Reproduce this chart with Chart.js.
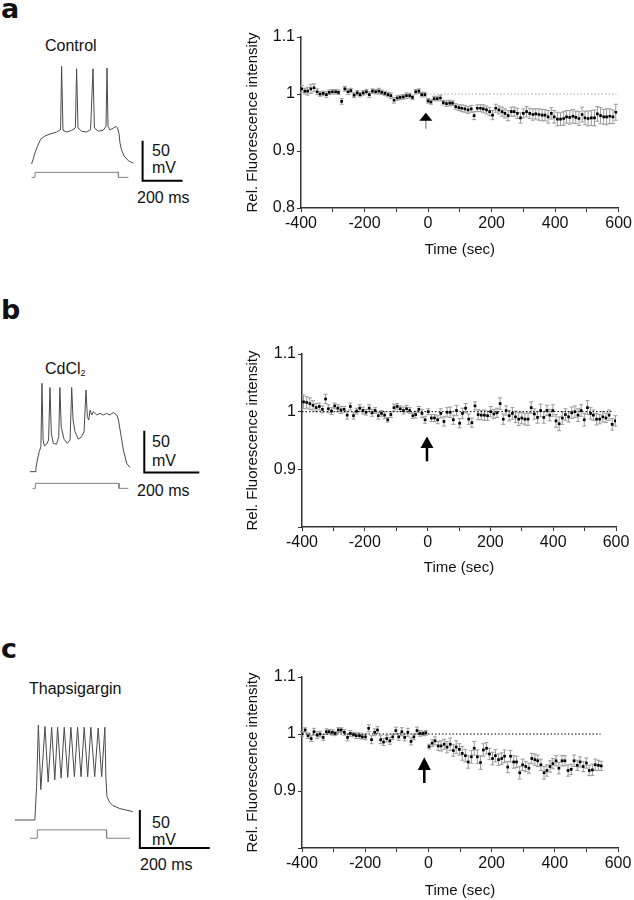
<!DOCTYPE html>
<html>
<head>
<meta charset="utf-8">
<script src="https://cdn.jsdelivr.net/npm/chart.js@4"></script>
<style>
  body { margin: 0; background: #fff; width: 634px; height: 900px; position: relative; overflow: hidden;
         font-family: "Liberation Sans", Arial, sans-serif; color: #111; }
  canvas { position: absolute; }
  .lbl { position: absolute; font-size: 16px; line-height: 16px; white-space: nowrap; }
  .tag { position: absolute; font-family: "DejaVu Sans", sans-serif; font-weight: bold; font-size: 27px; line-height: 27px; }
  sub { font-size: 9px; vertical-align: -2px; }
</style>
</head>
<body>
<div class="tag" style="left:1px;top:-5px">a</div>
<div class="tag" style="left:1px;top:296px">b</div>
<div class="tag" style="left:1px;top:635px">c</div>

<div class="lbl" style="left:45px;top:38px">Control</div>
<div class="lbl" style="left:152px;top:143px">50</div>
<div class="lbl" style="left:152px;top:160px">mV</div>
<div class="lbl" style="left:137px;top:190px">200 ms</div>

<div class="lbl" style="left:45px;top:361px">CdCl<sub>2</sub></div>
<div class="lbl" style="left:152px;top:434px">50</div>
<div class="lbl" style="left:152px;top:453px">mV</div>
<div class="lbl" style="left:137px;top:483px">200 ms</div>

<div class="lbl" style="left:29px;top:681px">Thapsigargin</div>
<div class="lbl" style="left:152px;top:815px">50</div>
<div class="lbl" style="left:152px;top:832px">mV</div>
<div class="lbl" style="left:140px;top:857px">200 ms</div>

<canvas id="trA" width="180" height="160" style="left:20px;top:50px"></canvas>
<canvas id="trB" width="200" height="160" style="left:20px;top:350px"></canvas>
<canvas id="trC" width="220" height="170" style="left:10px;top:700px"></canvas>
<canvas id="flA" width="394" height="240" style="left:240px;top:20px"></canvas>
<canvas id="flB" width="394" height="260" style="left:240px;top:320px"></canvas>
<canvas id="flC" width="394" height="260" style="left:240px;top:640px"></canvas>

<script>
// ---- voltage traces (ms, mV) ----
const traceA_ms = [58,67,75,87,103,125,150,183,203,208,215,233,258,277,283,290,308,333,353,365,372,392,417,430,435,440,450,467,480,488,495,500,508,520,542,567];
const traceA_mV = [-70,-63,-56,-48,-39,-35,-32.5,-30,-27,52,-28,-30,-28,-25,49,-25,-29,-30,-27,49,-25,-29,-27.5,-23,50,-23,-27.5,-25,-23,-25,-32,-44,-52.5,-60,-66,-69];
const stimA_ms = [58,75,75,492,492,542];
const stimA_mV = [-86.7,-86.7,-80.4,-80.4,-86.7,-86.7];
const barA_ms = [613,613,813];
const barA_mV = [-41,-91,-91];

const traceB_ms = [36,56,58,63,70,76,80,84,88.5,97,104,109,114,121,133,141,145,150,160,172,182,188,193,200,212,224,233,240,245,250,255,261,267,279,291,303,315,327,339,352,358,366,376,388,400];
const traceB_mV = [-70,-70,-66,-56,-46,-40,36,-32,-39,-37,-32,31,-24,-36,-37,-28,31,-16,-31,-36,-32,31,-8,-22,-31,-28,-22,28,-4,-8,4,-2,2,-2,0,-2,0,-2,1,-2,-8,-24,-44,-60,-65];
const stimB_ms = [46,56,56,360,360,394];
const stimB_mV = [-90,-90,-84,-84,-90,-90];
const barB_ms = [452,452,652];
const barB_mV = [-21,-71,-71];

const traceC_ms = [14,71,76,81,88,100,109,119,128,136,146,155,165,174,184,193,203,212,222,231,242,252,262,271,274,277,285,294,314,351];
const traceC_mV = [-70,-70,-26,55,-30,53,-20,52,-17,52,-15,52,-14,52,-13,52,-13,52,-13,52,-13,51,-13,52,-14,-39,-47,-51,-55,-59];
const stimC_ms = [57,78,78,276,276,343];
const stimC_mV = [-94,-94,-83,-83,-94,-94];
const barC_ms = [371,371,571];
const barC_mV = [-57,-107,-107];

// ---- relative fluorescence (time in sec) ----
const timeA = [-398,-388,-379,-369,-359,-349,-340,-330,-320,-311,
  -301,-291,-282,-272,-262,-252,-243,-233,-223,-214,
  -204,-194,-185,-175,-165,-155,-146,-136,-126,-117,
  -107,-97,-88,-78,-68,-58,-49,-39,-29,-20,
  -10,0,9,19,29,39,48,58,68,77,
  87,97,106,116,126,136,145,155,165,174,
  184,194,203,213,223,233,242,252,262,271,
  281,291,300,310,320,330,339,349,359,368,
  378,388,397,407,417,427,436,446,456,465,
  475,485,494,504,514,524,533,543,553,562,
  572,582,591];
const fluorA = [1.009,1.005,1.005,1.009,1.011,1.004,1.000,1.001,0.999,1.003,
  1.004,1.004,1.003,0.987,1.009,1.004,1.006,0.998,1.002,0.999,
  1.002,1.004,0.999,1.005,1.004,1.005,1.003,1.001,0.999,0.997,
  0.989,0.993,0.994,0.995,0.997,0.997,0.994,1.004,1.005,0.999,
  0.999,0.988,0.986,0.992,0.992,0.993,0.985,0.983,0.984,0.984,
  0.978,0.976,0.975,0.974,0.972,0.974,0.962,0.975,0.975,0.974,
  0.972,0.969,0.963,0.975,0.972,0.969,0.966,0.962,0.969,0.969,
  0.966,0.958,0.966,0.969,0.966,0.964,0.965,0.964,0.963,0.963,
  0.960,0.966,0.960,0.956,0.956,0.957,0.960,0.959,0.961,0.959,
  0.957,0.964,0.958,0.957,0.958,0.958,0.965,0.962,0.960,0.960,
  0.961,0.960,0.968];
const semA = [0.006,0.005,0.007,0.008,0.007,0.005,0.004,0.004,0.005,0.004,
  0.004,0.004,0.004,0.005,0.004,0.005,0.004,0.004,0.004,0.004,
  0.004,0.004,0.005,0.004,0.004,0.005,0.004,0.004,0.004,0.005,
  0.005,0.004,0.004,0.004,0.005,0.004,0.004,0.004,0.004,0.004,
  0.004,0.004,0.004,0.004,0.004,0.005,0.004,0.005,0.005,0.004,
  0.005,0.005,0.006,0.006,0.006,0.006,0.007,0.006,0.006,0.007,
  0.007,0.007,0.008,0.007,0.007,0.008,0.008,0.009,0.008,0.008,
  0.009,0.009,0.008,0.009,0.009,0.010,0.009,0.010,0.010,0.010,
  0.011,0.010,0.011,0.012,0.011,0.012,0.011,0.012,0.012,0.011,
  0.012,0.013,0.012,0.013,0.013,0.014,0.013,0.014,0.013,0.014,
  0.013,0.012,0.014];

const timeB = [-395,-385,-375,-365,-355,-345,-335,-325,-316,-306,
  -296,-286,-276,-266,-256,-246,-236,-226,-216,-206,
  -196,-186,-177,-167,-157,-147,-137,-127,-117,-107,
  -97,-87,-77,-67,-57,-47,-38,-28,-18,-8,
  2,12,22,32,42,52,62,72,82,92,
  102,111,121,131,141,151,161,171,181,191,
  201,211,221,231,241,250,260,270,280,290,
  300,310,320,330,340,350,360,370,380,389,
  399,409,419,429,439,449,459,469,479,489,
  499,509,519,528,538,548,558,568,578,588,
  598];
const fluorB = [1.017,1.016,1.014,1.011,1.007,1.009,1.004,1.022,1.005,1.001,
  1.010,1.006,1.003,1.004,0.994,1.009,0.993,1.001,1.006,1.002,
  0.999,1.006,0.998,1.002,0.993,0.997,0.994,0.986,0.995,1.007,
  1.009,1.005,1.002,1.005,1.002,0.993,0.995,1.004,0.997,0.986,
  1.000,0.989,0.989,0.986,0.997,0.983,0.999,0.999,0.986,1.002,
  0.980,0.997,1.006,0.987,0.981,1.010,0.995,0.994,0.994,0.993,
  1.000,0.996,0.998,1.014,0.987,1.002,0.993,0.997,0.991,0.987,
  0.989,0.987,0.987,1.007,0.996,0.990,1.002,0.990,1.002,0.994,
  1.002,0.984,0.979,0.989,0.995,0.991,0.998,1.000,0.994,1.002,
  0.986,1.007,0.997,0.994,0.987,0.987,0.991,0.989,0.994,0.978,
  0.984];
const semB = [0.012,0.010,0.010,0.008,0.007,0.006,0.006,0.008,0.007,0.006,
  0.005,0.006,0.006,0.005,0.007,0.006,0.006,0.005,0.006,0.006,
  0.005,0.006,0.006,0.005,0.006,0.005,0.006,0.004,0.005,0.006,
  0.005,0.005,0.006,0.006,0.005,0.005,0.006,0.005,0.007,0.006,
  0.005,0.006,0.006,0.007,0.008,0.008,0.008,0.009,0.008,0.009,
  0.008,0.009,0.008,0.009,0.008,0.007,0.009,0.008,0.009,0.008,
  0.009,0.008,0.008,0.010,0.009,0.008,0.009,0.010,0.010,0.011,
  0.010,0.010,0.011,0.010,0.009,0.010,0.011,0.010,0.009,0.010,
  0.010,0.011,0.012,0.011,0.010,0.009,0.010,0.010,0.011,0.010,
  0.011,0.012,0.010,0.009,0.010,0.008,0.009,0.008,0.009,0.010,
  0.009];

const timeC = [-400,-390,-381,-371,-362,-352,-343,-333,-323,-314,
  -304,-295,-285,-276,-266,-256,-247,-237,-228,-218,
  -209,-199,-189,-180,-170,-161,-151,-142,-132,-122,
  -113,-103,-94,-84,-75,-65,-55,-46,-36,-27,
  -17,-8,2,12,21,31,40,50,59,69,
  79,88,98,107,117,126,136,145,155,165,
  174,184,193,203,212,222,232,241,251,260,
  270,279,289,298,308,318,327,337,346,356,
  366,375,385,394,404,413,423,432,442,452,
  461,471,480,490,500,509,519,528,538,547];
const fluorC = [1.000,1.007,0.997,0.992,1.004,0.998,1.000,0.994,1.004,1.004,
  1.003,1.001,1.007,1.007,1.003,0.994,1.001,0.999,0.997,0.997,
  0.995,0.995,1.010,0.990,1.003,1.007,0.990,0.986,0.992,0.988,
  0.995,1.006,0.995,1.004,0.994,1.003,0.987,0.995,1.006,1.001,
  1.001,1.002,0.978,0.984,0.988,0.979,0.979,0.982,0.977,0.982,
  0.971,0.977,0.973,0.966,0.962,0.951,0.960,0.975,0.960,0.950,
  0.972,0.975,0.965,0.957,0.962,0.955,0.957,0.961,0.942,0.961,
  0.951,0.951,0.932,0.946,0.943,0.940,0.957,0.955,0.953,0.946,
  0.932,0.936,0.943,0.948,0.953,0.940,0.953,0.953,0.936,0.938,
  0.953,0.945,0.951,0.943,0.949,0.936,0.937,0.946,0.945,0.944];
const semC = [0.004,0.004,0.005,0.005,0.006,0.006,0.005,0.005,0.005,0.004,
  0.005,0.004,0.004,0.004,0.005,0.006,0.005,0.004,0.005,0.005,
  0.004,0.005,0.006,0.007,0.006,0.006,0.007,0.006,0.006,0.006,
  0.005,0.006,0.006,0.007,0.006,0.007,0.006,0.005,0.006,0.005,
  0.004,0.004,0.004,0.006,0.007,0.008,0.009,0.009,0.010,0.011,
  0.010,0.011,0.010,0.012,0.011,0.011,0.011,0.012,0.012,0.012,
  0.011,0.010,0.010,0.011,0.011,0.010,0.010,0.011,0.010,0.010,
  0.011,0.010,0.011,0.010,0.009,0.009,0.009,0.010,0.010,0.010,
  0.011,0.010,0.010,0.009,0.009,0.010,0.009,0.009,0.010,0.009,
  0.010,0.009,0.009,0.009,0.009,0.009,0.010,0.010,0.009,0.008];

// dotted baseline at 1 (start, end in sec) and drug-application arrow (sec, head tip, head base, tail end)
const refA = [-5, 593], refB = [-400, 590], refC = [-400, 545];
const arrowA = [-7, 0.967, 0.953, 0.939];
const arrowB = [-2, 0.957, 0.937, 0.914];
const arrowC = [-13, 0.959, 0.937, 0.914];

Chart.defaults.font.family = '"Liberation Sans", Arial, sans-serif';
Chart.defaults.color = '#111';

const xy = (xs, ys) => xs.map((x, i) => ({x: x, y: ys[i]}));

function traceChart(id, tr, st, bar, xr, yr) {
  new Chart(document.getElementById(id), {
    type: 'scatter',
    data: {
      datasets: [
        {data: xy(tr[0], tr[1]), showLine: true, borderColor: '#4a4a4a', borderWidth: 1, pointRadius: 0},
        {data: xy(st[0], st[1]), showLine: true, borderColor: '#808080', borderWidth: 1, pointRadius: 0},
        {data: xy(bar[0], bar[1]), showLine: true, borderColor: '#000', borderWidth: 2, pointRadius: 0, borderJoinStyle: 'miter'}
      ]
    },
    options: {
      responsive: false, animation: false, events: [],
      layout: {padding: 0},
      plugins: {legend: {display: false}, tooltip: {enabled: false}},
      scales: {
        x: {display: false, min: xr[0], max: xr[1]},
        y: {display: false, min: yr[0], max: yr[1]}
      }
    }
  });
}

const errorBars = {
  id: 'errorBars',
  beforeDatasetsDraw(chart, args, o) {
    const ys = chart.scales.y, ctx = chart.ctx;
    const meta = chart.getDatasetMeta(0);
    const d = chart.data.datasets[0].data;
    ctx.save();
    ctx.strokeStyle = '#9a9a9a';
    ctx.lineWidth = 1;
    meta.data.forEach((p, i) => {
      const t = ys.getPixelForValue(d[i].y + o.errs[i]);
      const b = ys.getPixelForValue(d[i].y - o.errs[i]);
      ctx.beginPath();
      ctx.moveTo(p.x, t); ctx.lineTo(p.x, b);
      ctx.moveTo(p.x - 2, t); ctx.lineTo(p.x + 2, t);
      ctx.moveTo(p.x - 2, b); ctx.lineTo(p.x + 2, b);
      ctx.stroke();
    });
    ctx.restore();
  }
};

const arrowMark = {
  id: 'arrowMark',
  afterDatasetsDraw(chart, args, o) {
    const xs = chart.scales.x, ys = chart.scales.y, ctx = chart.ctx;
    const a = o.pos;
    const px = xs.getPixelForValue(a[0]);
    const tip = ys.getPixelForValue(a[1]), base = ys.getPixelForValue(a[2]), tail = ys.getPixelForValue(a[3]);
    ctx.save();
    ctx.strokeStyle = o.tailColor;
    ctx.lineWidth = o.tailWidth;
    ctx.beginPath(); ctx.moveTo(px, base - 1); ctx.lineTo(px, tail); ctx.stroke();
    ctx.fillStyle = '#000';
    ctx.beginPath();
    ctx.moveTo(px, tip); ctx.lineTo(px - 6.5, base); ctx.lineTo(px + 6.5, base); ctx.closePath();
    ctx.fill();
    ctx.restore();
  }
};

function fluorChart(id, t, v, e, ref, refColor, arrow, tailColor, tailWidth, box) {
  new Chart(document.getElementById(id), {
    type: 'scatter',
    data: {
      datasets: [
        {data: xy(t, v), pointStyle: 'rect', pointRadius: 1.9, pointBackgroundColor: '#000', pointBorderWidth: 0},
        {data: xy(ref, [1, 1]), showLine: true, borderColor: refColor, borderWidth: 1, borderDash: [1.5, 2], pointRadius: 0}
      ]
    },
    options: {
      responsive: false, animation: false, events: [],
      layout: {padding: {left: 0, right: box.r, top: box.t, bottom: 0}},
      plugins: {
        legend: {display: false}, tooltip: {enabled: false},
        errorBars: {errs: e},
        arrowMark: {pos: arrow, tailColor: tailColor, tailWidth: tailWidth}
      },
      scales: {
        x: {
          type: 'linear', min: -400, max: 600,
          afterFit: s => { s.height = box.xh; },
          ticks: {stepSize: 100, autoSkip: false, maxRotation: 0, padding: 2, font: {size: 16},
                  callback: val => (val % 200 === 0 ? String(val) : '')},
          grid: {drawOnChartArea: false, tickLength: 4, color: '#333'},
          border: {color: '#333', width: 1.5},
          title: {display: true, text: 'Time (sec)', font: {size: 15}, padding: {top: 0, bottom: box.tp}}
        },
        y: {
          min: 0.8, max: 1.1,
          afterFit: s => { s.width = box.yw; },
          ticks: {stepSize: 0.1, padding: 2, font: {size: 16},
                  callback: val => (box.hide08 && Math.abs(val - 0.8) < 1e-6) ? '' : String(Math.round(val * 10) / 10)},
          grid: {drawOnChartArea: false, tickLength: 4, color: '#333'},
          border: {color: '#333', width: 1.5},
          title: {display: true, text: 'Rel. Fluorescence intensity', font: {size: 15}, padding: {top: 4, bottom: 0}}
        }
      }
    },
    plugins: [errorBars, arrowMark]
  });
}

traceChart('trA', [traceA_ms, traceA_mV], [stimA_ms, stimA_mV], [barA_ms, barA_mV], [0, 900], [-127.5, 72.5]);
traceChart('trB', [traceB_ms, traceB_mV], [stimB_ms, stimB_mV], [barB_ms, barB_mV], [0, 727.3], [-116, 76]);
traceChart('trC', [traceC_ms, traceC_mV], [stimC_ms, stimC_mV], [barC_ms, barC_mV], [0, 628.6], [-135.8, 87.9]);

fluorChart('flA', timeA, fluorA, semA, refA, '#aaa', arrowA, '#999', 1.5, {r: 15, t: 17, xh: 52, yw: 61, tp: 1, hide08: false});
fluorChart('flB', timeB, fluorB, semB, refB, '#000', arrowB, '#000', 2.5, {r: 18, t: 34, xh: 53, yw: 62, tp: 3, hide08: true});
fluorChart('flC', timeC, fluorC, semC, refC, '#000', arrowC, '#000', 2.5, {r: 16, t: 37, xh: 52, yw: 62, tp: 0, hide08: true});
</script>
</body>
</html>
